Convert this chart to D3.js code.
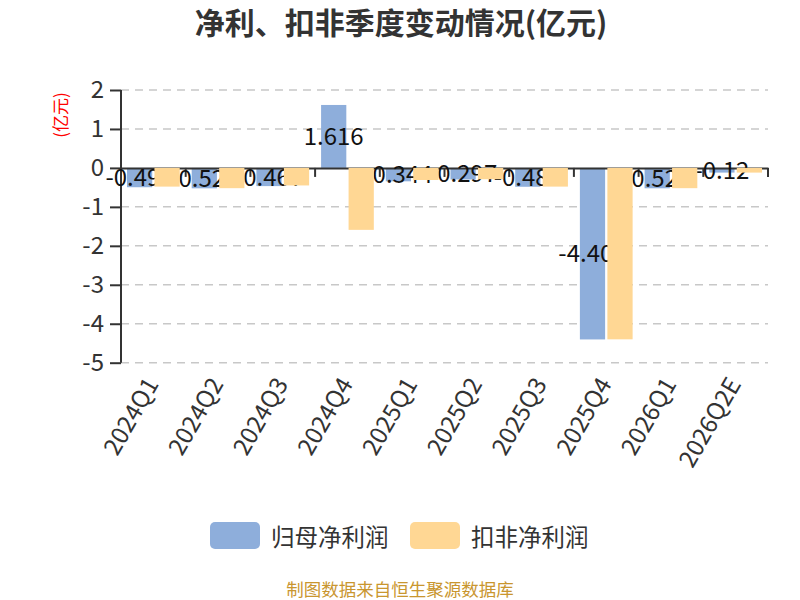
<!DOCTYPE html>
<html><head><meta charset="utf-8">
<script src="https://cdn.jsdelivr.net/npm/d3@7/dist/d3.min.js"></script>
<style>body{margin:0;background:#fff}</style>
</head><body>
<svg id="c" width="800" height="600"></svg>
<script>
const categories = ["2024Q1","2024Q2","2024Q3","2024Q4","2025Q1","2025Q2","2025Q3","2025Q4","2026Q1","2026Q2E"];
const netProfit = [-0.496,-0.524,-0.467,1.616,-0.344,-0.297,-0.484,-4.403,-0.523,-0.12];
const deductedProfit = [-0.48,-0.52,-0.45,-1.59,-0.31,-0.29,-0.48,-4.40,-0.52,-0.12];
const yTicks = [2,1,0,-1,-2,-3,-4,-5];
const seriesNames = ["归母净利润","扣非净利润"];
const colors = ["#8eaedb","#ffd794"];

const font = '"Noto Sans CJK SC","Noto Sans",sans-serif';
const svg = d3.select("#c");
const L = 121, R = 768, T = 90, B = 362.7;
const x = d3.scaleBand().domain(categories).range([L, R]).paddingInner(0).paddingOuter(0);
const y = d3.scaleLinear().domain([-5, 2]).range([B, T]);
const bw = x.bandwidth();
const barW = bw * 0.39, gap = bw * 0.035, off = (bw - 2 * barW - gap) / 2;

// title
svg.append("text").attr("x", 401).attr("y", 34).attr("text-anchor", "middle")
  .attr("font-family", font).attr("font-size", 30).attr("font-weight", "bold").attr("fill", "#333")
  .text("净利、扣非季度变动情况(亿元)");

// grid
svg.append("g").selectAll("line").data(yTicks.filter(d => d !== 0)).join("line")
  .attr("x1", L).attr("x2", R).attr("y1", d => y(d)).attr("y2", d => y(d))
  .attr("stroke", "#c8c8c8").attr("stroke-width", 1.5).attr("stroke-dasharray", "8,6");

// y axis
const ya = svg.append("g").attr("transform", `translate(${L},0)`)
  .call(d3.axisLeft(y).tickValues(yTicks).tickSize(11).tickPadding(6).tickFormat(d => String(d)));
ya.select(".domain").attr("stroke", "#333").attr("stroke-width", 2).attr("d", `M0,${T}V${B}`);
ya.selectAll(".tick line").attr("stroke", "#333").attr("stroke-width", 2);
ya.selectAll(".tick text").attr("font-family", font).attr("font-size", 24).attr("fill", "#333");

// y axis name
svg.append("text").attr("transform", "translate(59,115) rotate(-90)").attr("text-anchor", "middle")
  .attr("dominant-baseline", "central").attr("font-family", font).attr("font-size", 17).attr("fill", "red")
  .text("(亿元)");

// blue bars
svg.append("g").selectAll("rect").data(netProfit).join("rect")
  .attr("x", (d, i) => x(categories[i]) + off).attr("width", barW)
  .attr("y", d => y(Math.max(0, d))).attr("height", d => Math.abs(y(d) - y(0)))
  .attr("fill", colors[0]);

// zero axis
const xa = svg.append("g").attr("transform", `translate(0,${y(0)})`)
  .call(d3.axisBottom(x).tickValues([]).tickSizeOuter(0));
xa.select(".domain").attr("stroke", "#333").attr("stroke-width", 2);
svg.append("g").selectAll("line").data(categories).join("line")
  .attr("x1", d => x(d) + bw).attr("x2", d => x(d) + bw)
  .attr("y1", y(0)).attr("y2", y(0) + 9).attr("stroke", "#333").attr("stroke-width", 2);

// labels for blue
svg.append("g").selectAll("text").data(netProfit).join("text")
  .attr("x", (d, i) => x(categories[i]) + off + barW / 2)
  .attr("y", d => (y(d) + y(0)) / 2 - 2)
  .attr("text-anchor", "middle").attr("dominant-baseline", "central")
  .attr("font-family", font).attr("font-size", 24).attr("fill", "#111")
  .text(d => d);

// orange bars
svg.append("g").selectAll("rect").data(deductedProfit).join("rect")
  .attr("x", (d, i) => x(categories[i]) + off + barW + gap).attr("width", barW)
  .attr("y", d => y(Math.max(0, d))).attr("height", d => Math.abs(y(d) - y(0)))
  .attr("fill", colors[1]);

// x labels
svg.append("g").selectAll("text").data(categories).join("text")
  .attr("transform", d => `translate(${x(d) + bw / 2 - 3},${B + 16}) rotate(-60)`)
  .attr("text-anchor", "end").attr("dominant-baseline", "central")
  .attr("font-family", font).attr("font-size", 24).attr("fill", "#333")
  .text(d => d);

// legend
const lg = svg.append("g");
[0, 1].forEach(i => {
  lg.append("rect").attr("x", 210 + i * 200).attr("y", 522).attr("width", 50).attr("height", 27)
    .attr("rx", 5).attr("fill", colors[i]);
  lg.append("text").attr("x", 271 + i * 200).attr("y", 536).attr("dominant-baseline", "central")
    .attr("font-family", font).attr("font-size", 23.5).attr("fill", "#333").text(seriesNames[i]);
});

// footer
svg.append("text").attr("x", 400).attr("y", 588).attr("text-anchor", "middle")
  .attr("dominant-baseline", "central").attr("font-family", font).attr("font-size", 17.5)
  .attr("fill", "#c9962f").text("制图数据来自恒生聚源数据库");
</script>
</body></html>
